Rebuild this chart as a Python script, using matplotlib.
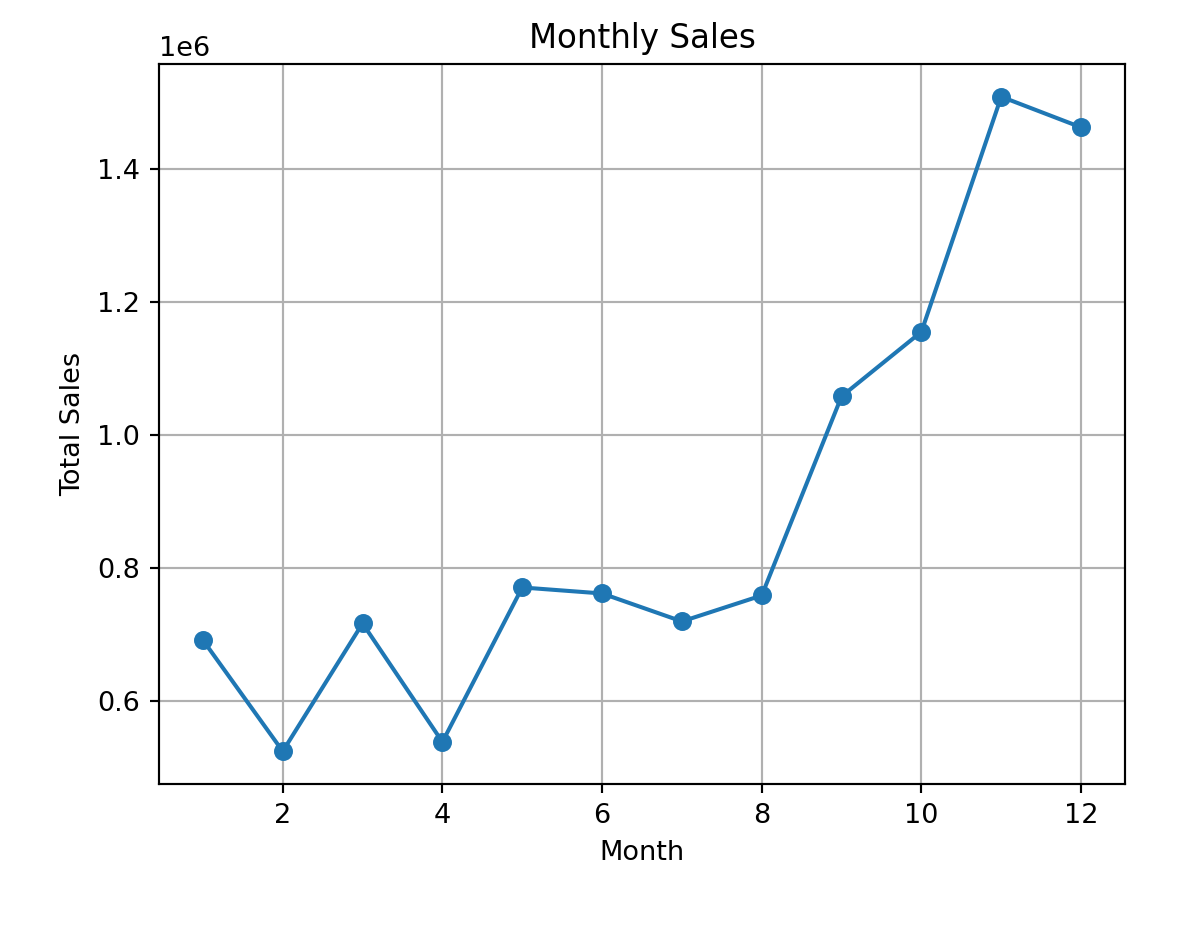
import matplotlib
matplotlib.use("Agg")
import matplotlib.pyplot as plt

months = [1, 2, 3, 4, 5, 6, 7, 8, 9, 10, 11, 12]
sales = [692000, 525000, 717000, 539000, 771000, 762000, 720000, 759000,
         1058000, 1155000, 1508000, 1462000]

dpi = 195
fig = plt.figure(figsize=(1181 / dpi, 926 / dpi), dpi=dpi)
ax = fig.add_axes([159 / 1181, 1 - 784 / 926, (1125 - 159) / 1181, (784 - 64) / 926])
ax.plot(months, sales, marker='o')
ax.set_title('Monthly Sales')
ax.set_xlabel('Month')
ax.set_ylabel('Total Sales')
ax.grid(True)
fig.savefig('out.png', dpi=dpi)
